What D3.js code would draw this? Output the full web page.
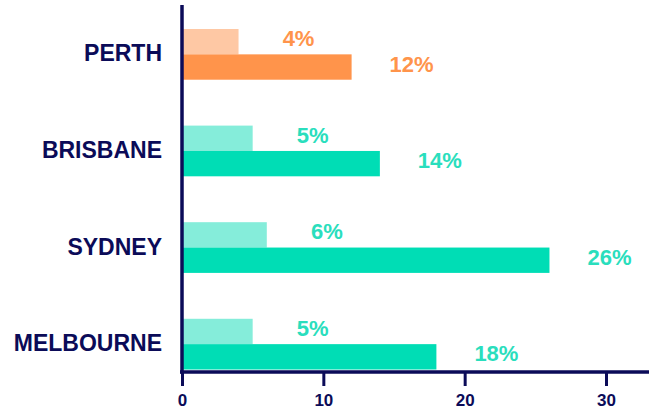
<!DOCTYPE html>
<html>
<head>
<meta charset="utf-8">
<script src="https://cdn.jsdelivr.net/npm/d3@7"></script>
<style>
  html, body { margin: 0; padding: 0; background: #ffffff; }
  svg { display: block; font-family: "Liberation Sans", Arial, Helvetica, sans-serif; }
</style>
</head>
<body>
<svg id="chart" width="660" height="414"></svg>
<script>
// Cities, top to bottom
const cities = ["PERTH", "BRISBANE", "SYDNEY", "MELBOURNE"];
// Lower (light) bar per city, in percent
const lightValues = [4, 5, 6, 5];
// Upper (dark) bar per city, in percent
const darkValues = [12, 14, 26, 18];
// Tick values on the x axis
const xTicks = [0, 10, 20, 30];

const navy = "#0b0b58";
const palette = {
  PERTH:     { light: "#fec8a4", dark: "#ff944b", text: "#ff944b" },
  BRISBANE:  { light: "#85edda", dark: "#00ddb5", text: "#2adebd" },
  SYDNEY:    { light: "#85edda", dark: "#00ddb5", text: "#2adebd" },
  MELBOURNE: { light: "#85edda", dark: "#00ddb5", text: "#2adebd" }
};

const svg = d3.select("#chart");

const x = d3.scaleLinear().domain([0, 30]).range([182, 606]);

// Each city band holds the light bar above the dark bar
const y = d3.scaleBand()
  .domain(cities)
  .range([29, 369.5])
  .paddingInner(0.475)
  .paddingOuter(0);

const half = y.bandwidth() / 2;

const rows = cities.map((c, i) => ({ city: c, light: lightValues[i], dark: darkValues[i] }));

const g = svg.append("g");

// Light bars
g.selectAll("rect.light").data(rows).enter().append("rect")
  .attr("class", "light")
  .attr("x", x(0))
  .attr("y", d => y(d.city))
  .attr("width", d => x(d.light) - x(0))
  .attr("height", half)
  .attr("fill", d => palette[d.city].light);

// Dark bars
g.selectAll("rect.dark").data(rows).enter().append("rect")
  .attr("class", "dark")
  .attr("x", x(0))
  .attr("y", d => y(d.city) + half)
  .attr("width", d => x(d.dark) - x(0))
  .attr("height", half)
  .attr("fill", d => palette[d.city].dark);

// Value labels
const fmt = v => d3.format("d")(v) + "%";
g.selectAll("text.lv").data(rows).enter().append("text")
  .attr("class", "lv")
  .attr("x", d => x(d.light) + 60)
  .attr("y", d => y(d.city) + half / 2 - 3)
  .attr("text-anchor", "middle")
  .attr("dominant-baseline", "central")
  .attr("font-size", 22)
  .attr("font-weight", "bold")
  .attr("fill", d => palette[d.city].text)
  .text(d => fmt(d.light));

g.selectAll("text.dv").data(rows).enter().append("text")
  .attr("class", "dv")
  .attr("x", d => x(d.dark) + 60)
  .attr("y", d => y(d.city) + half * 1.5 - 3)
  .attr("text-anchor", "middle")
  .attr("dominant-baseline", "central")
  .attr("font-size", 22)
  .attr("font-weight", "bold")
  .attr("fill", d => palette[d.city].text)
  .text(d => fmt(d.dark));

// City labels
g.selectAll("text.city").data(rows).enter().append("text")
  .attr("class", "city")
  .attr("x", 162)
  .attr("y", d => y(d.city) + half - 1)
  .attr("text-anchor", "end")
  .attr("dominant-baseline", "central")
  .attr("font-size", 23)
  .attr("font-weight", "bold")
  .attr("fill", navy)
  .text(d => d.city);

// Vertical axis line
svg.append("line")
  .attr("x1", x(0)).attr("x2", x(0))
  .attr("y1", 5).attr("y2", 373.5)
  .attr("stroke", navy).attr("stroke-width", 3.5);

// Bottom axis
const xAxis = d3.axisBottom(x)
  .tickValues(xTicks)
  .tickSize(14)
  .tickPadding(8)
  .tickFormat(d3.format("d"));

const ax = svg.append("g")
  .attr("transform", "translate(0,372)")
  .call(xAxis);

ax.select(".domain").remove();
ax.selectAll(".tick line").attr("stroke", navy).attr("stroke-width", 3);
ax.selectAll(".tick text")
  .attr("fill", navy)
  .attr("font-size", 17)
  .attr("font-weight", "bold")
  .attr("font-family", "Liberation Sans, Arial, sans-serif");

ax.append("line")
  .attr("x1", x(0) - 2).attr("x2", 649)
  .attr("y1", 0).attr("y2", 0)
  .attr("stroke", navy).attr("stroke-width", 3.5);
</script>
</body>
</html>
